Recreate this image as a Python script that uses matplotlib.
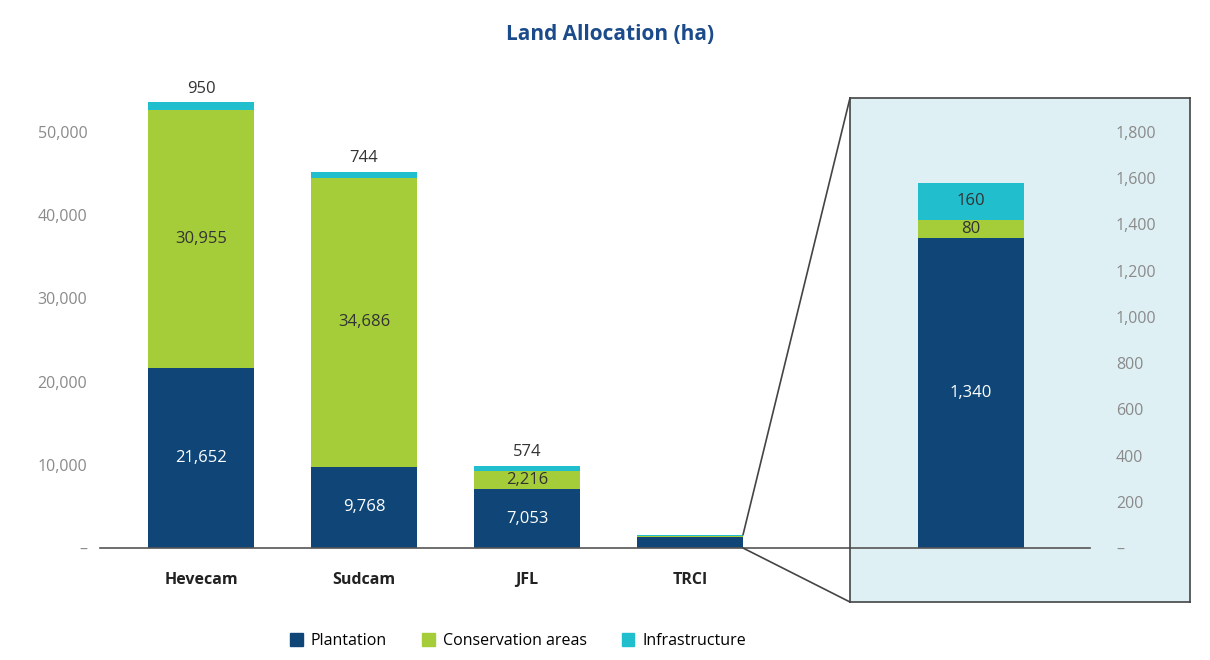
import matplotlib
matplotlib.use("Agg")
import matplotlib.pyplot as plt
from matplotlib.patches import Patch, ConnectionPatch
from matplotlib.ticker import FuncFormatter
import numpy as np

companies = ["Hevecam", "Sudcam", "JFL", "TRCI"]
plantation = [21652, 9768, 7053, 1340]
conservation = [30955, 34686, 2216, 80]
infrastructure = [950, 744, 574, 160]

main_ticks = [0, 10000, 20000, 30000, 40000, 50000]
zoom_ticks = [0, 200, 400, 600, 800, 1000, 1200, 1400, 1600, 1800]

c_plant = "#0f4677"
c_cons = "#a5cd39"
c_infra = "#21bece"
c_box = "#dff0f4"
c_title = "#1b4b8a"
c_tick = "#8a8a8a"
c_text = "#333333"

plt.rcParams["font.family"] = ["Open Sans", "DejaVu Sans"]

W, H = 1210, 660
fig = plt.figure(figsize=(W / 100, H / 100), dpi=100)


def px_box(x0, y0, x1, y1):
    # pixel rectangle (top-left origin) -> figure fraction
    return [x0 / W, (H - y1) / H, (x1 - x0) / W, (y1 - y0) / H]


# main axes
ax = fig.add_axes(px_box(100, 90, 1090, 548))
step = 163.0
ax.set_xlim(-(201 - 100) / step, (1090 - 201) / step)
ax.set_ylim(0, 458 / 416 * 50000)
width = 106 / step
x = np.arange(len(companies))
p = np.array(plantation)
c = np.array(conservation)
i = np.array(infrastructure)
ax.bar(x, p, width, color=c_plant)
ax.bar(x, c, width, bottom=p, color=c_cons)
ax.bar(x, i, width, bottom=p + c, color=c_infra)

for k in range(3):
    ax.text(x[k], p[k] / 2, f"{p[k]:,}", ha="center", va="center", color="white", fontsize=12)
    ax.text(x[k], p[k] + c[k] / 2, f"{c[k]:,}", ha="center", va="center", color=c_text, fontsize=12)
    ax.text(x[k], p[k] + c[k] + i[k] + 700, f"{i[k]:,}", ha="center", va="bottom", color=c_text, fontsize=12)

for s in ["top", "right", "left"]:
    ax.spines[s].set_visible(False)
ax.spines["bottom"].set_color("#555555")
ax.spines["bottom"].set_linewidth(1.2)
ax.set_xticks(x)
ax.set_xticklabels(companies, fontweight="bold", fontsize=11.5, color="#222222")
ax.tick_params(axis="x", length=0, pad=17)
ax.set_yticks(main_ticks)
ax.yaxis.set_major_formatter(FuncFormatter(lambda v, pos: "–" if v == 0 else f"{int(v):,}"))
ax.tick_params(axis="y", length=0, pad=9, labelsize=11.5, labelcolor=c_tick)

# zoom box
ax2 = fig.add_axes(px_box(850, 98, 1190, 602))
ax2.set_zorder(3)
ax2.set_facecolor(c_box)
per_px = 1800 / 416
ax2.set_ylim(-54 * per_px, 450 * per_px)
ax2.set_xlim(-(971 - 850) / step, (1190 - 971) / step)
ax2.bar(0, plantation[3], width, color=c_plant)
ax2.bar(0, conservation[3], width, bottom=plantation[3], color=c_cons)
ax2.bar(0, infrastructure[3], width, bottom=plantation[3] + conservation[3], color=c_infra)
ax2.text(0, plantation[3] / 2, f"{plantation[3]:,}", ha="center", va="center", color="white", fontsize=12)
ax2.text(0, plantation[3] + conservation[3] / 2, f"{conservation[3]:,}", ha="center", va="center", color=c_text, fontsize=12)
ax2.text(0, plantation[3] + conservation[3] + infrastructure[3] / 2, f"{infrastructure[3]:,}", ha="center", va="center", color=c_text, fontsize=12)
ax2.axhline(0, xmin=0, xmax=(1090 - 850) / 340, color="#555555", lw=1.2)
for s in ax2.spines.values():
    s.set_color("#444444")
    s.set_linewidth(1.2)
ax2.set_xticks([])
ax2.yaxis.tick_right()
ax2.set_yticks(zoom_ticks)
ax2.yaxis.set_major_formatter(FuncFormatter(lambda v, pos: "–" if v == 0 else f"{int(v):,}"))
ax2.tick_params(axis="y", length=0, pad=-(1190 - 1116) * 0.72, labelsize=11.5, labelcolor=c_tick)
for lab in ax2.get_yticklabels():
    lab.set_horizontalalignment("left")

# connector lines
tot = plantation[3] + conservation[3] + infrastructure[3]
for yd, ya in [(tot, 1), (0, 0)]:
    con = ConnectionPatch(xyA=(x[3] + width / 2, yd), coordsA=ax.transData,
                          xyB=(0, ya), coordsB=ax2.transAxes,
                          color="#444444", lw=1.2)
    con.set_zorder(4)
    fig.add_artist(con)

fig.text(610 / W, 1 - 35 / H, "Land Allocation (ha)", ha="center", va="center",
         fontsize=15, fontweight="bold", color=c_title)

handles = [Patch(color=c_plant, label="Plantation"),
           Patch(color=c_cons, label="Conservation areas"),
           Patch(color=c_infra, label="Infrastructure")]
fig.legend(handles=handles, loc="center", bbox_to_anchor=(518 / W, 1 - 641 / H), ncol=3,
           frameon=False, handlelength=0.8, handleheight=0.8, columnspacing=2.2,
           handletextpad=0.5, fontsize=11.5)

fig.savefig("out.png", dpi=100)
